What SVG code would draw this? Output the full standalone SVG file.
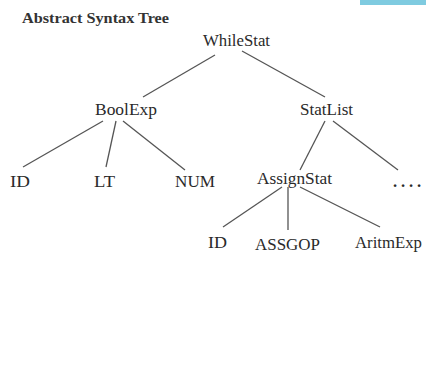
<svg xmlns="http://www.w3.org/2000/svg" width="426" height="374" viewBox="0 0 426 374">
<style>
.t{font-family:"Liberation Serif","Times New Roman",serif;font-size:16.5px;fill:#2a2a2a;text-anchor:middle}
.ttl{font-family:"Liberation Serif","Times New Roman",serif;font-size:15px;font-weight:bold;fill:#333}
.e line{stroke:#555;stroke-width:1.3;fill:none}
</style>
<rect width="426" height="374" fill="#fff"/>
<rect x="360" y="0" width="66" height="5" fill="#7fcbe0"/>
<text class="ttl" x="22" y="23" textLength="147" lengthAdjust="spacingAndGlyphs">Abstract Syntax Tree</text>
<g class="e" id="connectors">
<line x1="215" y1="55" x2="143" y2="97"/>
<line x1="242" y1="51" x2="325" y2="97"/>
<line x1="103" y1="121" x2="23" y2="167"/>
<line x1="116" y1="121" x2="106" y2="167"/>
<line x1="123" y1="121" x2="185" y2="170"/>
<line x1="325" y1="121" x2="300" y2="170"/>
<line x1="333" y1="121" x2="398" y2="170"/>
<line x1="282" y1="187" x2="223" y2="227"/>
<line x1="288" y1="187" x2="288" y2="230"/>
<line x1="300" y1="187" x2="380" y2="227"/>
</g>
<g id="WhileStat"><text class="t" x="236.5" y="46" textLength="67" lengthAdjust="spacingAndGlyphs">WhileStat</text></g>
<g id="BoolExp"><text class="t" x="126" y="115" textLength="62" lengthAdjust="spacingAndGlyphs">BoolExp</text></g>
<g id="StatList"><text class="t" x="326.5" y="115" textLength="53" lengthAdjust="spacingAndGlyphs">StatList</text></g>
<g id="ID1"><text class="t" x="20" y="187" textLength="20" lengthAdjust="spacingAndGlyphs">ID</text></g>
<g id="LT"><text class="t" x="104.5" y="187" textLength="21" lengthAdjust="spacingAndGlyphs">LT</text></g>
<g id="NUM"><text class="t" x="195" y="187" textLength="40" lengthAdjust="spacingAndGlyphs">NUM</text></g>
<g id="AssignStat"><text class="t" x="294.5" y="184" textLength="75" lengthAdjust="spacingAndGlyphs">AssignStat</text></g>
<g id="Dots"><text class="t" x="407" y="187" font-weight="bold" textLength="28" lengthAdjust="spacing">....</text></g>
<g id="ID2"><text class="t" x="217.5" y="248" textLength="19" lengthAdjust="spacingAndGlyphs">ID</text></g>
<g id="ASSGOP"><text class="t" x="287.5" y="250" textLength="65" lengthAdjust="spacingAndGlyphs">ASSGOP</text></g>
<g id="AritmExp"><text class="t" x="388.5" y="248" textLength="67" lengthAdjust="spacingAndGlyphs">AritmExp</text></g>
</svg>
